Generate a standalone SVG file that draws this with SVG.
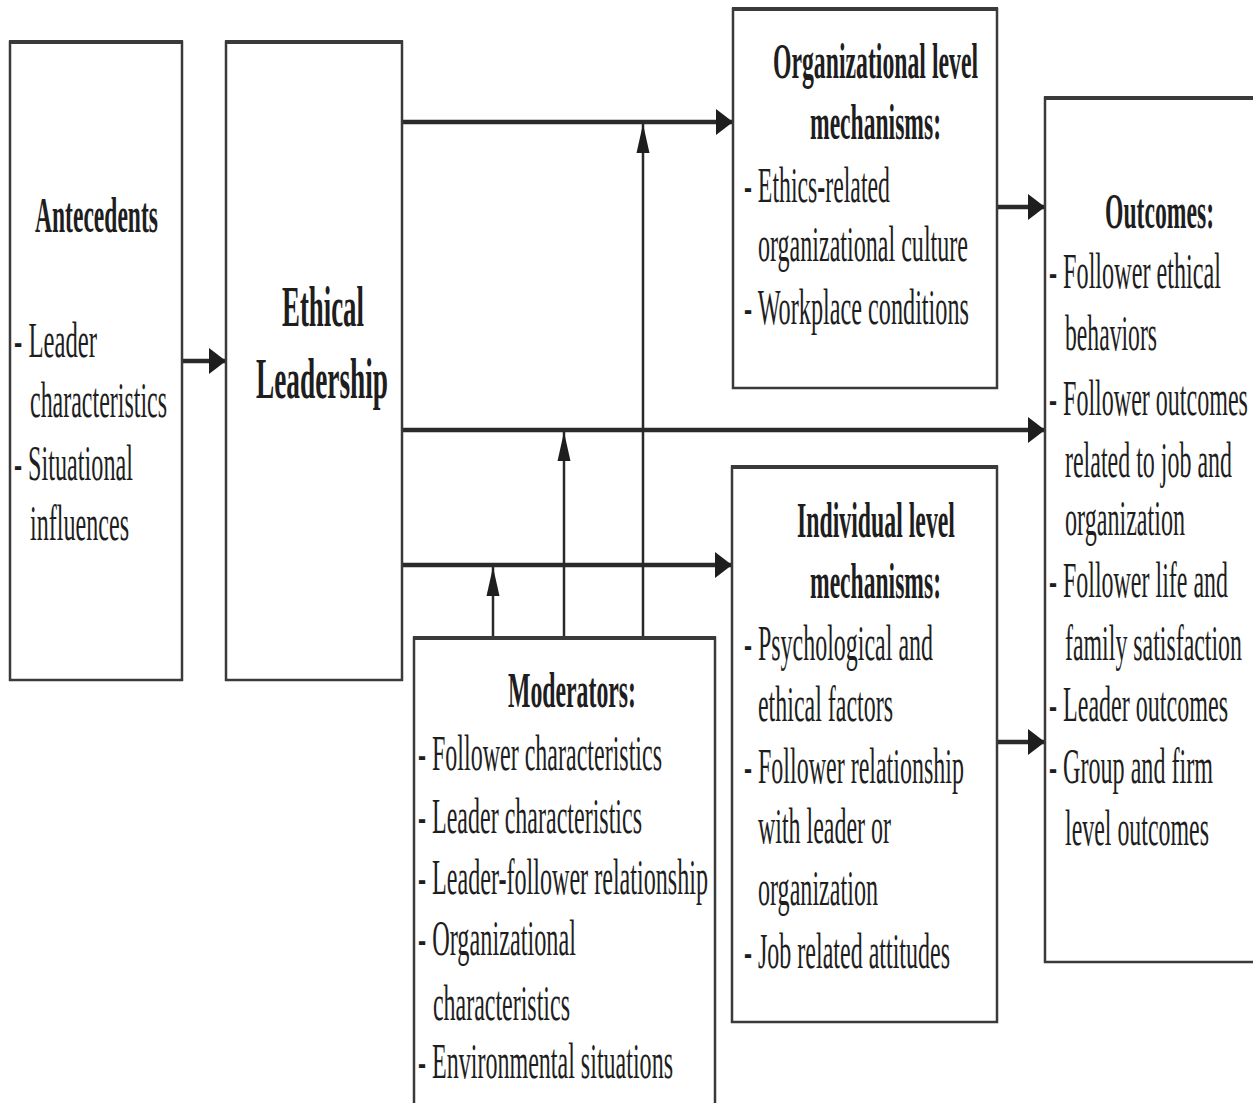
<svg xmlns="http://www.w3.org/2000/svg" width="1253" height="1103" viewBox="0 0 1253 1103">
<style>
  .box { fill: #fff; stroke: #3a3a3a; stroke-width: 2.5; }
  .top { stroke: #3a3a3a; stroke-width: 4; }
  text { font-family: "Liberation Serif", "Times New Roman", serif; fill: #1e1e1e; }
  .t { font-size: 50px; }
  .b { font-size: 50px; font-weight: bold; }
  .bb { font-size: 58px; font-weight: bold; }
  .h { stroke: #2a2a2a; stroke-width: 4.5; fill: none; }
  .v { stroke: #2a2a2a; stroke-width: 2.5; fill: none; }
</style>
<defs>
  <marker id="ah" markerUnits="userSpaceOnUse" markerWidth="18" markerHeight="28" refX="17" refY="14" orient="auto" viewBox="0 0 18 28">
    <path d="M0,1 L17,14 L0,27 Z" fill="#1e1e1e"/>
  </marker>
  <marker id="av" markerUnits="userSpaceOnUse" markerWidth="30" markerHeight="14" refX="29" refY="7" orient="auto" viewBox="0 0 30 14">
    <path d="M0,0.5 L29,7 L0,13.5 Z" fill="#1e1e1e"/>
  </marker>
</defs>

<g id="connectors">
  <line class="h" x1="182" y1="361" x2="226" y2="361" marker-end="url(#ah)"/>
  <line class="h" x1="402" y1="122" x2="733" y2="122" marker-end="url(#ah)"/>
  <line class="h" x1="402" y1="430" x2="1045" y2="430" marker-end="url(#ah)"/>
  <line class="h" x1="402" y1="565" x2="732" y2="565" marker-end="url(#ah)"/>
  <line class="h" x1="997" y1="207" x2="1045" y2="207" marker-end="url(#ah)"/>
  <line class="h" x1="997" y1="742" x2="1045" y2="742" marker-end="url(#ah)"/>
  <line class="v" x1="493" y1="638" x2="493" y2="567" marker-end="url(#av)"/>
  <line class="v" x1="564" y1="638" x2="564" y2="432" marker-end="url(#av)"/>
  <line class="v" x1="643" y1="638" x2="643" y2="124" marker-end="url(#av)"/>
</g>

<g id="antecedents">
  <rect class="box" x="10" y="42" width="172" height="638"/>
  <line class="top" x1="9" y1="42" x2="183" y2="42"/>
  <g transform="scale(0.45 1)">
    <text class="b" x="77.8" y="232" textLength="273.3" lengthAdjust="spacingAndGlyphs">Antecedents</text>
    <text class="t" x="31.1" y="357" textLength="184.4" lengthAdjust="spacingAndGlyphs">- Leader</text>
    <text class="t" x="66.7" y="417" textLength="304.4" lengthAdjust="spacingAndGlyphs">characteristics</text>
    <text class="t" x="31.1" y="480" textLength="264.4" lengthAdjust="spacingAndGlyphs">- Situational</text>
    <text class="t" x="66.7" y="540" textLength="220" lengthAdjust="spacingAndGlyphs">influences</text>
  </g>
</g>

<g id="ethical-leadership">
  <rect class="box" x="226" y="42" width="176" height="638"/>
  <line class="top" x1="225" y1="42" x2="403" y2="42"/>
  <g transform="scale(0.45 1)">
    <text class="bb" x="626.7" y="326" textLength="182.2" lengthAdjust="spacingAndGlyphs">Ethical</text>
    <text class="bb" x="568.9" y="398" textLength="293.3" lengthAdjust="spacingAndGlyphs">Leadership</text>
  </g>
</g>

<g id="org-mechanisms">
  <rect class="box" x="733" y="9" width="264" height="379"/>
  <line class="top" x1="732" y1="9" x2="998" y2="9"/>
  <g transform="scale(0.45 1)">
    <text class="b" x="1717.8" y="78" textLength="455.6" lengthAdjust="spacingAndGlyphs">Organizational level</text>
    <text class="b" x="1800" y="139" textLength="291.1" lengthAdjust="spacingAndGlyphs">mechanisms:</text>
    <text class="t" x="1653.3" y="202" textLength="324.4" lengthAdjust="spacingAndGlyphs">- Ethics-related</text>
    <text class="t" x="1684.4" y="261" textLength="466.7" lengthAdjust="spacingAndGlyphs">organizational culture</text>
    <text class="t" x="1653.3" y="324" textLength="500" lengthAdjust="spacingAndGlyphs">- Workplace conditions</text>
  </g>
</g>

<g id="individual-mechanisms">
  <rect class="box" x="732" y="467" width="265" height="555"/>
  <line class="top" x1="731" y1="467" x2="998" y2="467"/>
  <g transform="scale(0.45 1)">
    <text class="b" x="1771.1" y="537" textLength="351.1" lengthAdjust="spacingAndGlyphs">Individual level</text>
    <text class="b" x="1800" y="598" textLength="291.1" lengthAdjust="spacingAndGlyphs">mechanisms:</text>
    <text class="t" x="1653.3" y="660" textLength="420" lengthAdjust="spacingAndGlyphs">- Psychological and</text>
    <text class="t" x="1684.4" y="721" textLength="300" lengthAdjust="spacingAndGlyphs">ethical factors</text>
    <text class="t" x="1653.3" y="783" textLength="488.9" lengthAdjust="spacingAndGlyphs">- Follower relationship</text>
    <text class="t" x="1684.4" y="843" textLength="295.6" lengthAdjust="spacingAndGlyphs">with leader or</text>
    <text class="t" x="1684.4" y="905" textLength="266.7" lengthAdjust="spacingAndGlyphs">organization</text>
    <text class="t" x="1653.3" y="968" textLength="457.8" lengthAdjust="spacingAndGlyphs">- Job related attitudes</text>
  </g>
</g>

<g id="outcomes">
  <rect class="box" x="1045" y="98" width="230" height="864"/>
  <line class="top" x1="1044" y1="98" x2="1253" y2="98"/>
  <g transform="scale(0.45 1)">
    <text class="b" x="2455.6" y="228" textLength="242.2" lengthAdjust="spacingAndGlyphs">Outcomes:</text>
    <text class="t" x="2331.1" y="288" textLength="382.2" lengthAdjust="spacingAndGlyphs">- Follower ethical</text>
    <text class="t" x="2366.7" y="350" textLength="204.4" lengthAdjust="spacingAndGlyphs">behaviors</text>
    <text class="t" x="2331.1" y="415" textLength="442.2" lengthAdjust="spacingAndGlyphs">- Follower outcomes</text>
    <text class="t" x="2366.7" y="477" textLength="371.1" lengthAdjust="spacingAndGlyphs">related to job and</text>
    <text class="t" x="2366.7" y="535" textLength="266.7" lengthAdjust="spacingAndGlyphs">organization</text>
    <text class="t" x="2331.1" y="597" textLength="397.8" lengthAdjust="spacingAndGlyphs">- Follower life and</text>
    <text class="t" x="2366.7" y="660" textLength="393.3" lengthAdjust="spacingAndGlyphs">family satisfaction</text>
    <text class="t" x="2331.1" y="721" textLength="397.8" lengthAdjust="spacingAndGlyphs">- Leader outcomes</text>
    <text class="t" x="2331.1" y="783" textLength="364.4" lengthAdjust="spacingAndGlyphs">- Group and firm</text>
    <text class="t" x="2366.7" y="845" textLength="320" lengthAdjust="spacingAndGlyphs">level outcomes</text>
  </g>
</g>

<g id="moderators">
  <rect class="box" x="414" y="638" width="301" height="480"/>
  <line class="top" x1="413" y1="638" x2="716" y2="638"/>
  <g transform="scale(0.45 1)">
    <text class="b" x="1128.9" y="707" textLength="284.4" lengthAdjust="spacingAndGlyphs">Moderators:</text>
    <text class="t" x="928.9" y="770" textLength="542.2" lengthAdjust="spacingAndGlyphs">- Follower characteristics</text>
    <text class="t" x="928.9" y="833" textLength="497.8" lengthAdjust="spacingAndGlyphs">- Leader characteristics</text>
    <text class="t" x="928.9" y="894" textLength="644.4" lengthAdjust="spacingAndGlyphs">- Leader-follower relationship</text>
    <text class="t" x="928.9" y="955" textLength="351.1" lengthAdjust="spacingAndGlyphs">- Organizational</text>
    <text class="t" x="962.2" y="1020" textLength="304.4" lengthAdjust="spacingAndGlyphs">characteristics</text>
    <text class="t" x="928.9" y="1078" textLength="566.7" lengthAdjust="spacingAndGlyphs">- Environmental situations</text>
  </g>
</g>
</svg>
